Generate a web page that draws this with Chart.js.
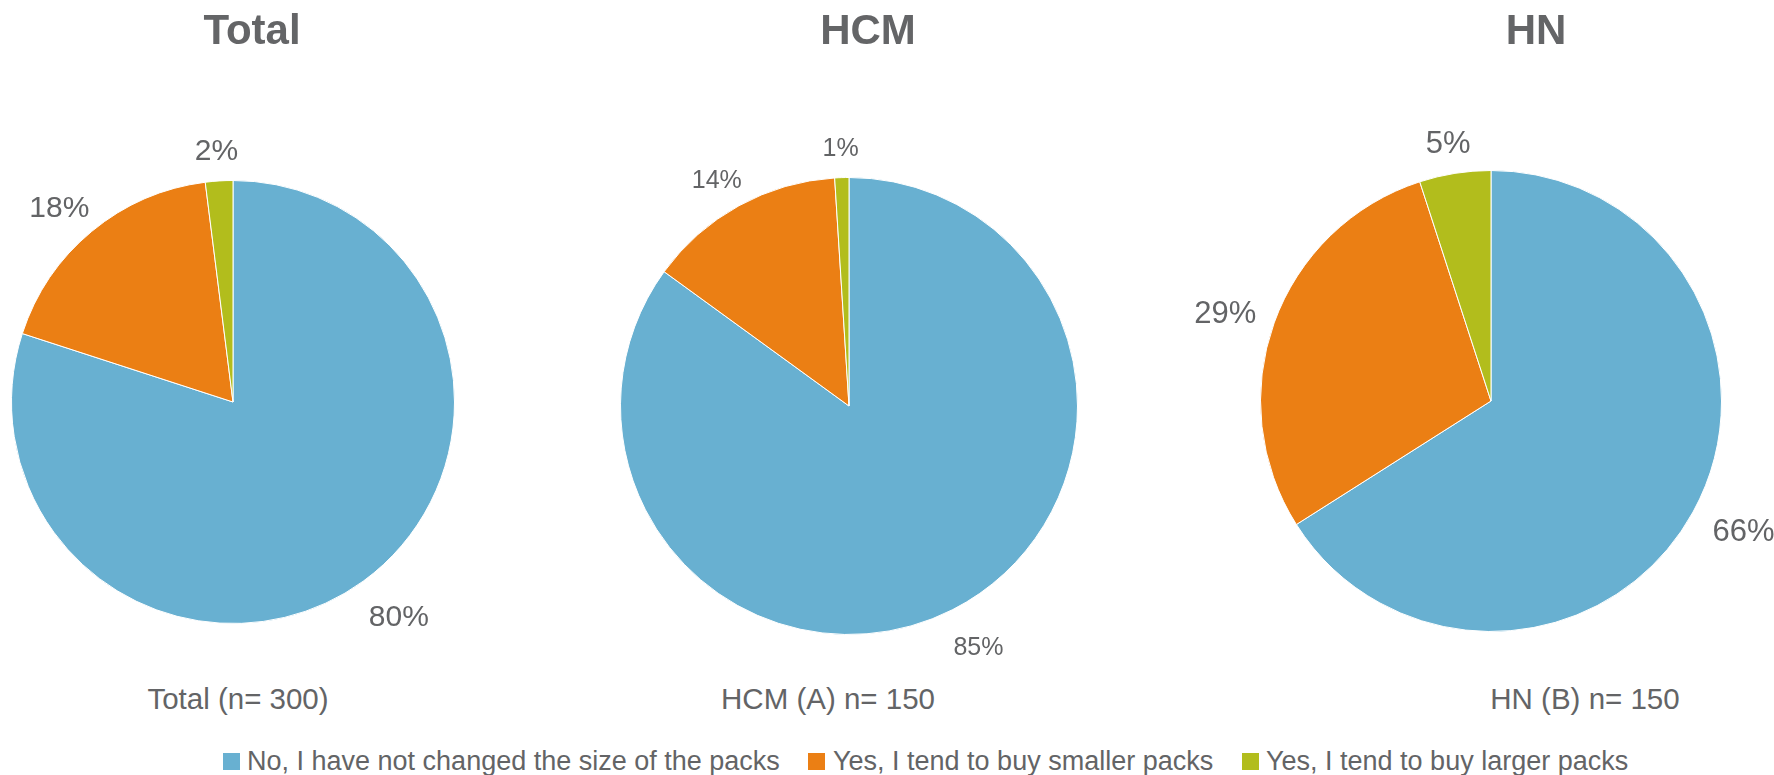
<!DOCTYPE html>
<html>
<head>
<meta charset="utf-8">
<script src="https://cdn.jsdelivr.net/npm/chart.js@4.4.1/dist/chart.umd.min.js"></script>
<style>
  html, body { margin: 0; padding: 0; background: #ffffff; }
  body { width: 1774px; height: 775px; position: relative; overflow: hidden; font-family: "Liberation Sans", Arial, sans-serif; color: #636466; }
  canvas { position: absolute; top: 0; }
  .txt { position: absolute; white-space: nowrap; line-height: 1; }
  .title { font-weight: bold; font-size: 42px; transform: translateX(-50%); color: #646567; }
  .base { font-size: 29.5px; transform: translateX(-50%); }
  .leg { font-size: 27px; }
  .sq { position: absolute; width: 17px; height: 17px; }
</style>
</head>
<body>
<canvas id="c0"></canvas>
<canvas id="c1"></canvas>
<canvas id="c2"></canvas>
<script>
// ---- data ----
const categories = [
  'No, I have not changed the size of the packs',
  'Yes, I tend to buy smaller packs',
  'Yes, I tend to buy larger packs'
];
const groupTitles = ['Total', 'HCM', 'HN'];
const groupBases = ['Total (n= 300)', 'HCM (A) n= 150', 'HN (B) n= 150'];
const totalValues = [80, 18, 2];
const hcmValues = [85, 14, 1];
const hnValues = [66, 29, 5];
const seriesValues = [totalValues, hcmValues, hnValues];

// ---- styling / layout ----
const sliceColors = ['#68B0D1', '#EB7F14', '#B2BD1C'];
const textColor = '#636466';
const panels = [
  { left: 0,    width: 600, cx: 233,  cy: 402, r: 222, labelSize: 30, titleX: 252,  baseX: 238 },
  { left: 600,  width: 580, cx: 849,  cy: 406, r: 229, labelSize: 25, titleX: 868,  baseX: 828 },
  { left: 1180, width: 594, cx: 1491, cy: 401, r: 231, labelSize: 31, titleX: 1536, baseX: 1585 }
];
const canvasH = 680;
const legendItems = [ {sq: 223, tx: 247}, {sq: 808, tx: 833}, {sq: 1242, tx: 1266} ];

const outsideLabels = {
  id: 'outsideLabels',
  afterDatasetsDraw(chart, args, opts) {
    const ctx = chart.ctx;
    const meta = chart.getDatasetMeta(0);
    const vals = chart.data.datasets[0].data;
    const fs = opts.size;
    ctx.save();
    ctx.font = fs + 'px "Liberation Sans", Arial, sans-serif';
    ctx.fillStyle = textColor;
    ctx.textAlign = 'center';
    ctx.textBaseline = 'alphabetic';
    meta.data.forEach((arc, i) => {
      const p = arc.getProps(['x', 'y', 'startAngle', 'endAngle', 'outerRadius'], true);
      const mid = (p.startAngle + p.endAngle) / 2;
      const dx = Math.cos(mid), dy = Math.sin(mid);
      const gap = 21 + 12 * Math.max(0, dy);
      const rr = p.outerRadius + gap;
      const txt = vals[i] + '%';
      const w = ctx.measureText(txt).width;
      const h = fs * 0.73;
      const tx = p.x + rr * dx + (w / 2) * dx;
      const ty = p.y + rr * dy + (h / 2) * dy;
      ctx.fillText(txt, tx, ty + fs * 0.358);
    });
    ctx.restore();
  }
};

panels.forEach((pn, k) => {
  const cv = document.getElementById('c' + k);
  cv.width = pn.width; cv.height = canvasH;
  cv.style.left = pn.left + 'px';
  cv.style.width = pn.width + 'px'; cv.style.height = canvasH + 'px';
  new Chart(cv, {
    type: 'pie',
    data: {
      labels: categories,
      datasets: [{
        data: seriesValues[k],
        backgroundColor: sliceColors,
        borderColor: '#ffffff',
        borderWidth: 1,
        hoverOffset: 0
      }]
    },
    options: {
      responsive: false,
      animation: false,
      devicePixelRatio: 1,
      layout: {
        padding: {
          left: pn.cx - pn.r - pn.left,
          top: pn.cy - pn.r,
          right: pn.left + pn.width - (pn.cx + pn.r),
          bottom: canvasH - (pn.cy + pn.r)
        }
      },
      plugins: {
        legend: { display: false },
        tooltip: { enabled: false },
        title: { display: false },
        outsideLabels: { size: pn.labelSize }
      }
    },
    plugins: [outsideLabels]
  });

  const t = document.createElement('div');
  t.className = 'txt title';
  t.textContent = groupTitles[k];
  t.style.left = pn.titleX + 'px';
  t.style.top = (29.5 - 0.488 * 42) + 'px';
  document.body.appendChild(t);

  const b = document.createElement('div');
  b.className = 'txt base';
  b.textContent = groupBases[k];
  b.style.left = pn.baseX + 'px';
  b.style.top = (698 - 0.488 * 29.5) + 'px';
  document.body.appendChild(b);
});

categories.forEach((c, i) => {
  const s = document.createElement('div');
  s.className = 'sq';
  s.style.background = sliceColors[i];
  s.style.left = legendItems[i].sq + 'px';
  s.style.top = '753px';
  document.body.appendChild(s);
  const t = document.createElement('div');
  t.className = 'txt leg';
  t.textContent = c;
  t.style.left = legendItems[i].tx + 'px';
  t.style.top = (761 - 0.488 * 27) + 'px';
  document.body.appendChild(t);
});
</script>
</body>
</html>
